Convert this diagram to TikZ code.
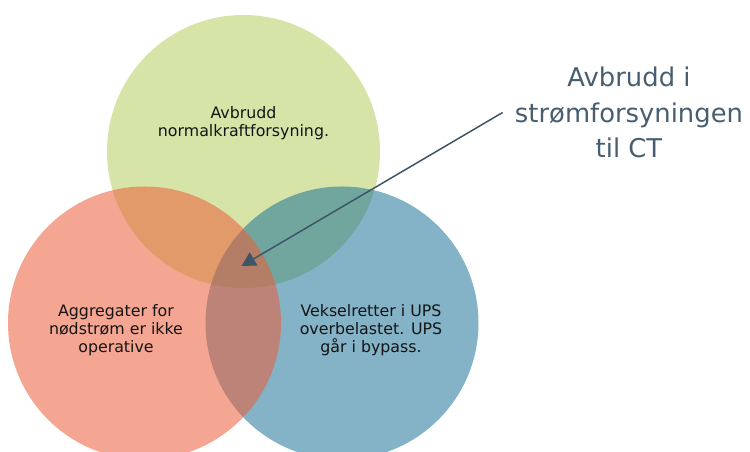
\documentclass[tikz,border=0pt]{standalone}
\usepackage{fontspec}
\setmainfont{DejaVu Sans}
\usepackage{tikz}
\usetikzlibrary{arrows.meta}
\usepackage{xcolor}
\definecolor{vgreen}{RGB}{182,206,97}
\definecolor{vred}{RGB}{237,93,57}
\definecolor{vblue}{RGB}{31,115,151}
\definecolor{slate}{RGB}{72,94,112}
\definecolor{arrowslate}{RGB}{61,85,102}
\tikzset{>=stealth}
\tikzset{%
    venn/.style={fill opacity=0.55},
    venntext/.style={align=center, text=black!92, font=\fontsize{9}{10.2}\selectfont},
    callout/.style={align=center, text=slate, inner sep=0.24cm, font=\fontsize{14.7}{20}\selectfont}
}

\begin{document}
\begin{tikzpicture}
    \useasboundingbox (0,0) rectangle (15,9.04);
    \begin{scope}
    \clip (0,0) rectangle (15,9.04);
	\fill[venn,vgreen] (4.87,6.01) circle (2.73);
	\fill[venn,vblue] (6.84,2.58) circle (2.73);
	\fill[venn,vred] (2.89,2.58) circle (2.73);
    \end{scope}
    \node[venntext] (normal) at (4.87,6.58) {Avbrudd\\normalkraftforsyning.};
    \node[venntext] (aggregat) at (2.32,2.44) {Aggregater for\\nødstrøm er ikke\\operative};
    \node[venntext] (ups) at (7.42,2.44) {Vekselretter i UPS\\overbelastet. UPS\\går i bypass.};
    \node[callout] (brudd) at (12.58,6.79) {Avbrudd i\\strømforsyningen\\til CT};
    \coordinate (tip) at (4.83,3.72);
  \draw[-{Triangle[length=8pt,width=8.5pt]},arrowslate,line width=0.85pt] (brudd.west) -- (tip);
    \end{tikzpicture}
\end{document}
